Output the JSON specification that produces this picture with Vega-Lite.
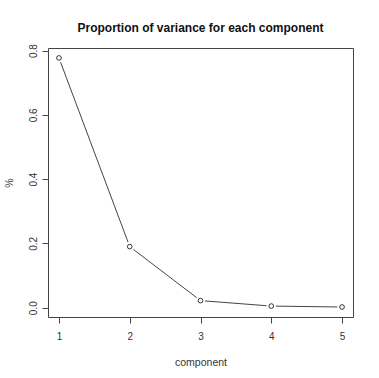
{
  "$schema": "https://vega.github.io/schema/vega-lite/v6.json",
  "width": 305,
  "height": 269,
  "autosize": {"type": "none"},
  "padding": {"left": 48, "top": 48, "right": 26, "bottom": 61},
  "background": "white",
  "config": {
    "font": "Liberation Sans",
    "view": {"stroke": "#444444", "strokeWidth": 1},
    "axis": {"domain": false, "grid": false, "tickColor": "#444444", "tickSize": 6, "labelColor": "#333333", "titleColor": "#333333", "labelFontSize": 10, "titleFontSize": 10.5, "titleFontWeight": "normal", "labelFont": "Liberation Sans", "titleFont": "Liberation Sans"}
  },
  "title": {"text": "Proportion of variance for each component", "fontSize": 12, "fontWeight": "bold", "color": "#111111", "anchor": "middle", "frame": "group", "offset": 9, "font": "Liberation Sans"},
  "data": {"values": [
    {"component": 1, "pct": 0.777},
    {"component": 2, "pct": 0.190},
    {"component": 3, "pct": 0.022},
    {"component": 4, "pct": 0.005},
    {"component": 5, "pct": 0.002}
  ]},
  "encoding": {
    "x": {"field": "component", "type": "quantitative", "scale": {"domain": [0.845, 5.155], "nice": false, "zero": false},
      "axis": {"values": [1, 2, 3, 4, 5], "format": "d", "title": "component", "labelPadding": 8, "titlePadding": 16}},
    "y": {"field": "pct", "type": "quantitative", "scale": {"domain": [-0.029, 0.808], "nice": false, "zero": false},
      "axis": {"values": [0, 0.2, 0.4, 0.6, 0.8], "format": ".1f", "title": "%", "labelAngle": -90, "labelAlign": "center", "labelBaseline": "bottom", "labelPadding": 4, "titlePadding": 14}}
  },
  "layer": [
    {"mark": {"type": "line", "color": "#444444", "strokeWidth": 1}},
    {"mark": {"type": "point", "shape": "circle", "filled": true, "fill": "white", "strokeWidth": 0, "opacity": 1, "size": 90}},
    {"mark": {"type": "point", "shape": "circle", "filled": false, "color": "#333333", "strokeWidth": 1, "opacity": 1, "size": 22}}
  ]
}
